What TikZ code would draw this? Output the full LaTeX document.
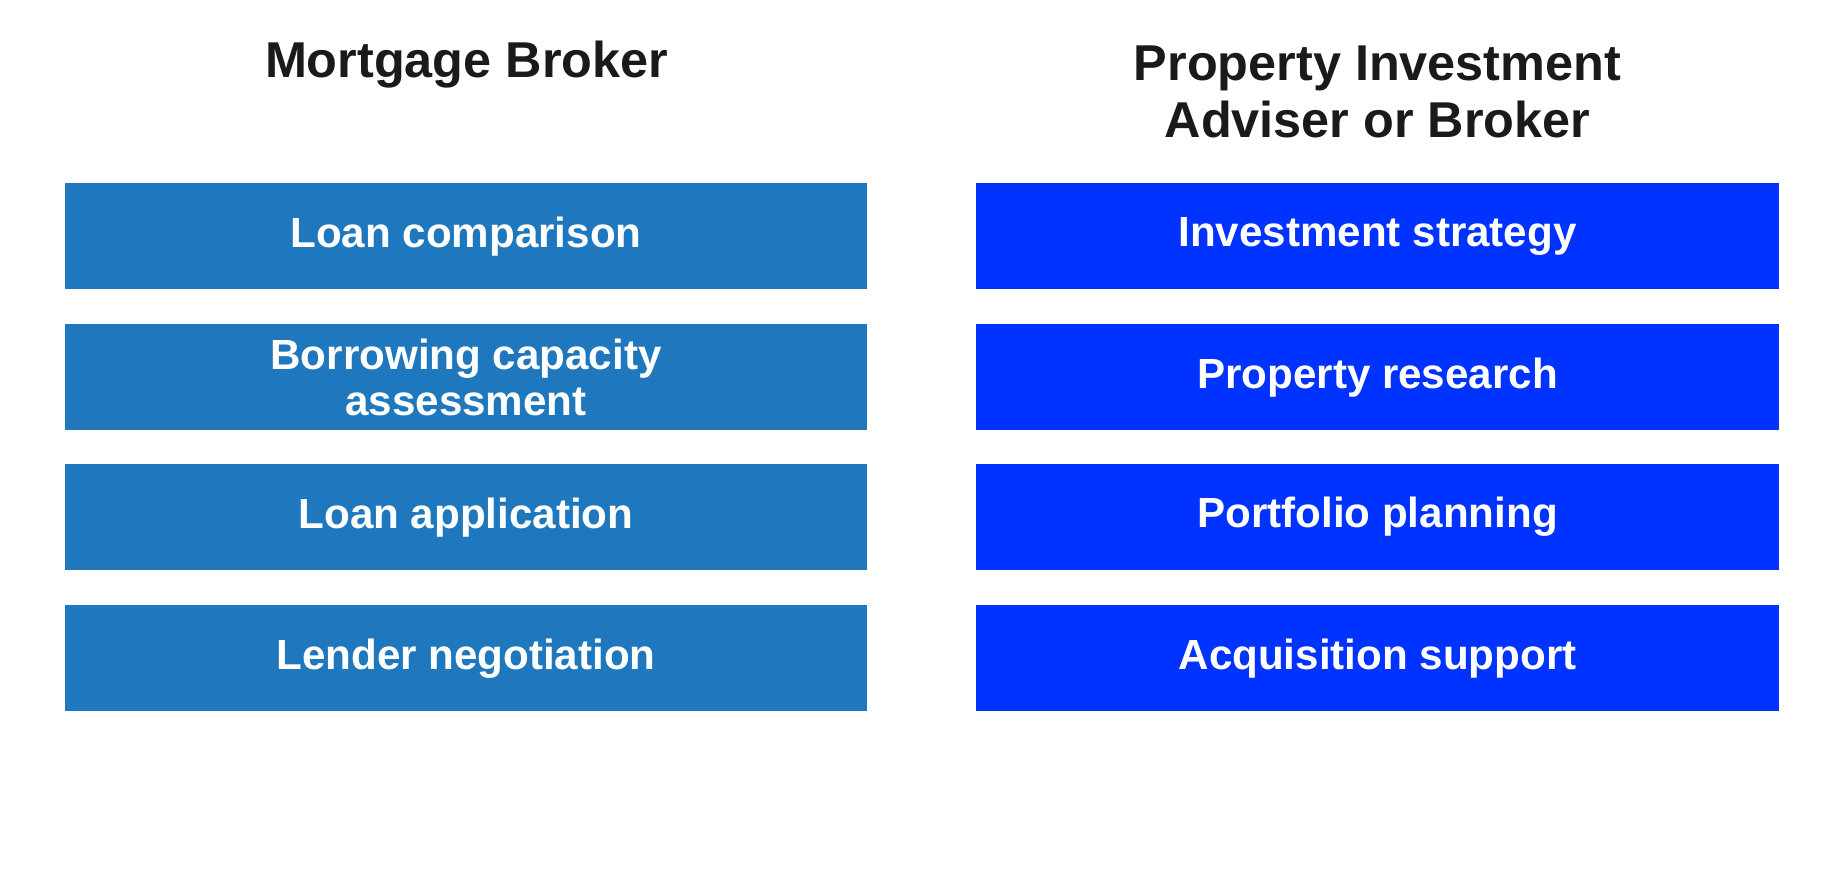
\documentclass[tikz,border=0pt]{standalone}
\usepackage{fontspec}
\setmainfont{Liberation Sans}
\usepackage{xcolor}
\definecolor{brokerblue}{RGB}{31,119,190}
\definecolor{adviserblue}{RGB}{0,51,255}
\definecolor{titlegray}{RGB}{26,26,26}

\begin{document}
\begin{tikzpicture}[x=0.1mm,y=-0.1mm,
    title/.style={font=\fontsize{12.2}{13.8}\selectfont\bfseries, text=titlegray, align=center},
    box/.style={minimum width=68.3mm, minimum height=9mm, inner sep=0pt, text=white,
        font=\fontsize{10.2}{11}\selectfont\bfseries, align=center}]
    \useasboundingbox (0,0) rectangle (1568,740);
    % Titles
    \node[title] (mbtitle) at (397,55) {Mortgage Broker};
    \node[title] (patitle) at (1172,78) {Property Investment\\Adviser or Broker};
    % Left column
    \foreach \y/\n/\lab in {201/lc/Loan comparison, 321/bc/{Borrowing capacity\\assessment},
        440/la/Loan application, 560/ln/Lender negotiation} {
        \node[box, fill=brokerblue] (\n) at (396.5,\y) {\lab};
    }
    % Right column
    \foreach \y/\n/\lab in {201/is/Investment strategy, 321/pr/Property research,
        440/pp/Portfolio planning, 560/as/Acquisition support} {
        \node[box, fill=adviserblue] (\n) at (1172,\y) {\lab};
    }
\end{tikzpicture}
\end{document}
